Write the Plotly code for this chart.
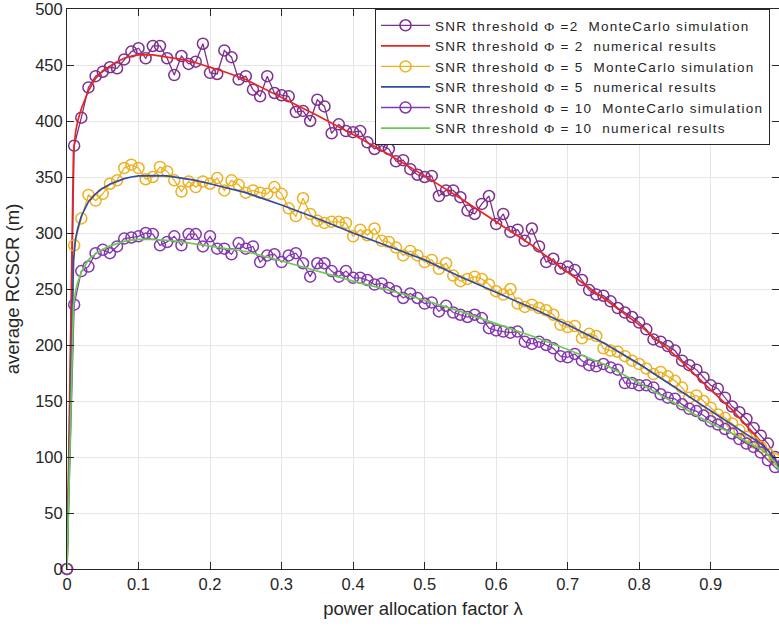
import plotly.graph_objects as go

# ---------------- data ----------------
lam_mc = [round(i * 0.01, 2) for i in range(101)]

mc_phi2 = [0, 378, 403, 430, 440, 444, 448, 447, 455, 462,
           465, 456, 467, 467, 456, 441, 458, 451, 453, 469,
           443, 442, 463, 457, 437, 440, 428, 422, 440, 425,
           423, 422, 408, 409, 400, 419, 413, 389, 397, 391,
           390, 391, 381, 375, 378, 375, 364, 365, 357, 352,
           350, 351, 333, 338, 338, 332, 320, 317, 326, 333,
           308, 317, 301, 303, 293, 304, 288, 274, 277, 268,
           270, 267, 258, 249, 245, 244, 239, 233, 229, 225,
           220, 214, 205, 203, 199, 195, 186, 182, 178, 171,
           164, 161, 153, 145, 140, 134, 126, 119, 112, 100,
           76]

mc_phi5 = [0, 289, 313, 334, 329, 335, 344, 347, 358, 361,
           358, 348, 350, 359, 355, 347, 337, 346, 341, 346,
           344, 349, 338, 347, 343, 336, 338, 336, 335, 341,
           335, 322, 315, 331, 317, 311, 309, 310, 310, 309,
           297, 303, 298, 304, 293, 292, 287, 280, 284, 280,
           274, 276, 268, 273, 262, 257, 259, 261, 259, 254,
           248, 245, 250, 237, 234, 236, 233, 231, 227, 218,
           216, 217, 206, 210, 208, 197, 195, 194, 190, 186,
           183, 179, 174, 176, 172, 168, 162, 153, 155, 150,
           144, 138, 135, 130, 124, 118, 113, 109, 103, 98,
           91]

mc_phi10 = [0, 236, 266, 270, 282, 285, 282, 288, 295, 296,
            297, 300, 299, 289, 292, 297, 289, 299, 299, 288,
            297, 286, 286, 281, 291, 286, 288, 274, 280, 281,
            274, 280, 282, 273, 261, 273, 273, 266, 261, 266,
            260, 260, 258, 254, 255, 251, 248, 242, 246, 242,
            237, 238, 230, 235, 229, 227, 225, 227, 224, 215,
            213, 212, 211, 212, 203, 201, 203, 200, 197, 190,
            189, 192, 186, 182, 181, 183, 180, 178, 166, 166,
            164, 164, 162, 156, 153, 152, 147, 143, 141, 137,
            132, 129, 125, 121, 116, 112, 109, 104, 97, 91,
            85]

lam_num = [0, 0.009, 0.012, 0.015, 0.02, 0.025, 0.03, 0.04, 0.05, 0.06,
           0.07, 0.08, 0.09, 0.10, 0.12, 0.14, 0.16, 0.18, 0.20, 0.22,
           0.25, 0.30, 0.35, 0.40, 0.45, 0.50, 0.55, 0.60, 0.65, 0.70,
           0.75, 0.80, 0.85, 0.90, 0.93, 0.95, 0.97, 0.98, 0.99, 1.0]

num_phi2 = [0, 372, 390, 400, 411, 420, 427, 438, 445, 449,
            453, 456, 458, 459, 459, 457, 455, 452, 448, 444,
            437, 421, 405, 388, 370, 351, 331, 310, 289, 265,
            242, 218, 191, 160, 142, 128, 114, 106, 98, 87]

num_phi5 = [0, 275, 295, 304, 315, 322, 328, 335, 340, 343.5,
            346, 348.5, 350, 351, 351.3, 351, 349, 347, 344, 341,
            336, 325, 313, 300, 288, 276, 261, 247, 233, 218,
            202, 183, 162, 141, 129, 120, 112, 106, 98, 86]

num_phi10 = [0, 236, 248, 256, 265, 271, 276, 281.5, 285.5, 288.5,
             290.5, 292.5, 293.6, 294.3, 294.3, 293.5, 292, 290, 288.5, 286.5,
             283.5, 275, 266, 257, 249, 240, 230, 219, 208, 196,
             183, 166, 148, 130, 121, 114, 107, 102, 95, 83]

x_ticks = [0, 0.1, 0.2, 0.3, 0.4, 0.5, 0.6, 0.7, 0.8, 0.9, 1]
y_ticks = [0, 50, 100, 150, 200, 250, 300, 350, 400, 450, 500]

# ---------------- styling ----------------
PURPLE = "#7E2F8E"
PURPLE2 = "#8436B0"
RED = "#E8261E"
YELLOW = "#EDB120"
BLUE = "#2E4CA6"
GREEN = "#6ACB4E"
AX = "#262626"
FONT = "Liberation Sans, Arial, sans-serif"
NB = "\u00a0"


def phi_label(val, eq_space, kind):
    phi = "<span style=\"font-family:'Liberation Serif', serif\">Φ</span>"
    eq = "=" + (NB if eq_space else "") + val
    txt = f"SNR threshold {phi} {eq}{NB}{NB}{kind}"
    return f"<span style=\"letter-spacing:1.27px\">{txt}</span>"


fig = go.Figure()

series = [
    (lam_mc, mc_phi2, PURPLE, True, phi_label("2", False, "MonteCarlo simulation")),
    (lam_num, num_phi2, RED, False, phi_label("2", True, "numerical results")),
    (lam_mc, mc_phi5, YELLOW, True, phi_label("5", True, "MonteCarlo simulation")),
    (lam_num, num_phi5, BLUE, False, phi_label("5", True, "numerical results")),
    (lam_mc, mc_phi10, PURPLE2, True, phi_label("10", True, "MonteCarlo simulation")),
    (lam_num, num_phi10, GREEN, False, phi_label("10", True, "numerical results")),
]

for xs, ys, col, is_mc, name in series:
    if is_mc:
        fig.add_trace(go.Scatter(
            x=xs, y=ys, name=name, mode="lines+markers",
            line=dict(color=col, width=1.3),
            marker=dict(symbol="circle-open", size=11, color=col,
                        line=dict(width=1.5, color=col)),
            cliponaxis=False,
        ))
    else:
        fig.add_trace(go.Scatter(
            x=xs, y=ys, name=name, mode="lines",
            line=dict(color=col, width=1.7),
        ))

fig.update_layout(
    width=779, height=629,
    margin=dict(l=67, r=0, t=9, b=60),
    paper_bgcolor="white", plot_bgcolor="white",
    font=dict(family=FONT, size=16, color=AX),
    showlegend=True,
    legend=dict(
        x=(375 - 67) / 712, y=1.0, xanchor="left", yanchor="top",
        bgcolor="white", bordercolor=AX, borderwidth=1,
        font=dict(family=FONT, size=13.5, color=AX),
        itemwidth=49, tracegroupgap=0,
    ),
)

fig.update_xaxes(
    range=[0, 0.9955], tickvals=x_ticks,
    ticktext=[str(t) for t in x_ticks],
    ticks="inside", ticklen=7, tickcolor=AX, tickwidth=1,
    showline=True, linecolor=AX, linewidth=1, mirror="ticks",
    showgrid=True, gridcolor="#E6E6E6", gridwidth=1,
    zeroline=False, automargin=False, ticklabeloverflow="allow",
    tickfont=dict(family=FONT, size=16.5, color=AX),
    title=dict(text="power allocation factor λ",
               font=dict(family=FONT, size=18.5, color=AX), standoff=10),
)
fig.update_yaxes(
    range=[0, 500], tickvals=y_ticks,
    ticks="inside", ticklen=7, tickcolor=AX, tickwidth=1,
    showline=True, linecolor=AX, linewidth=1, mirror="ticks",
    showgrid=True, gridcolor="#E6E6E6", gridwidth=1,
    zeroline=False, automargin=False, ticklabeloverflow="allow",
    tickfont=dict(family=FONT, size=16.5, color=AX),
    title=dict(text="average RCSCR (m)",
               font=dict(family=FONT, size=18.5, color=AX), standoff=10),
)

fig.write_html(
    "out.html",
    config={"displayModeBar": False},
    post_script="document.body.style.margin='0';document.body.style.padding='0';",
)
